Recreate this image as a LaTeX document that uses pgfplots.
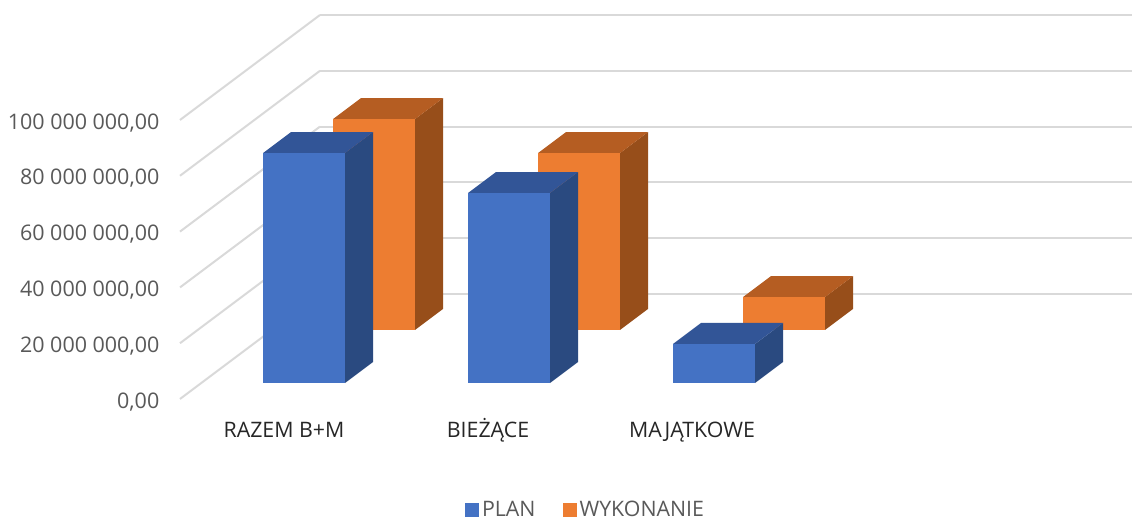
\documentclass[border=0pt]{standalone}
\usepackage{pgfplots}
\pgfplotsset{compat=1.18}
\usepackage{fontspec}
\setmainfont{Open Sans}

\definecolor{planF}{HTML}{4472C4}
\definecolor{planT}{HTML}{325597}
\definecolor{planS}{HTML}{2A4A80}
\definecolor{wykF}{HTML}{ED7D31}
\definecolor{wykT}{HTML}{B55D22}
\definecolor{wykS}{HTML}{974E1A}
\definecolor{gridc}{HTML}{D9D9D9}
\definecolor{labc}{HTML}{595959}

% #1 left x, #2 front depth, #3 value in millions, #4 colour prefix
\newcommand{\barbox}[4]{%
  \pgfmathsetmacro\xa{#1}\pgfmathsetmacro\xb{#1+82}%
  \pgfmathsetmacro\da{#2}\pgfmathsetmacro\db{#2+28}%
  \addplot3[fill=#4S,draw=none,forget plot] coordinates {(\xb,\da,0) (\xb,\db,0) (\xb,\db,#3) (\xb,\da,#3)};
  \addplot3[fill=#4T,draw=none,forget plot] coordinates {(\xa,\da,#3) (\xb,\da,#3) (\xb,\db,#3) (\xa,\db,#3)};
  \addplot3[fill=#4F,draw=none,forget plot] coordinates {(\xa,\da,0) (\xb,\da,0) (\xb,\da,#3) (\xa,\da,#3)};
}

\begin{document}
\begin{tikzpicture}
\useasboundingbox (0,0) rectangle (849pt,390pt);
\begin{axis}[
  at={(135pt,90.75pt)}, anchor=origin,
  x={(0.75pt,0pt)}, y={(0.75pt,0.5625pt)}, z={(0pt,2.0925pt)},
  xmin=0, xmax=812, ymin=0, ymax=140, zmin=0, zmax=100,
  clip=false,
  axis line style={draw=none},
  tick style={draw=none},
  xtick={104,308,512}, xticklabels={RAZEM B+M,BIEŻĄCE,MAJĄTKOWE},
  ytick=\empty,
  ztick={0,20,40,60,80,100},
  zticklabels={{0,00},{20 000 000,00},{40 000 000,00},{60 000 000,00},{80 000 000,00},{100 000 000,00}},
  z grid style={gridc,line width=1.5pt},
  zmajorgrids=true,
  zticklabel style={font=\fontsize{16.1}{18}\selectfont,text=labc,anchor=east,xshift=-12pt,yshift=-2pt},
  xticklabel style={font=\fontsize{16}{18}\selectfont,text=black!85,anchor=base,yshift=-29pt},
  legend columns=2,
  legend image code/.code={\fill[#1] (0pt,-5.25pt) rectangle (10.5pt,5.25pt);},
  legend style={at={(rel axis cs:0.5,0,-0.397)},anchor=center,draw=none,fill=none,
    font=\fontsize{16}{18}\selectfont,text=labc,/tikz/every even column/.style={column sep=18.5pt}},
]
% series back to front, values in millions
\barbox{61}{92}{75.6}{wyk}
\barbox{266}{92}{63.4}{wyk}
\barbox{471}{92}{11.8}{wyk}
\barbox{61.7}{21.3}{82.4}{plan}
\barbox{266.7}{21.3}{68.1}{plan}
\barbox{471.7}{21.3}{14.0}{plan}
\addlegendimage{fill=planF,draw=none}
\addlegendentry{PLAN}
\addlegendimage{fill=wykF,draw=none}
\addlegendentry{WYKONANIE}
\end{axis}
\end{tikzpicture}
\end{document}
